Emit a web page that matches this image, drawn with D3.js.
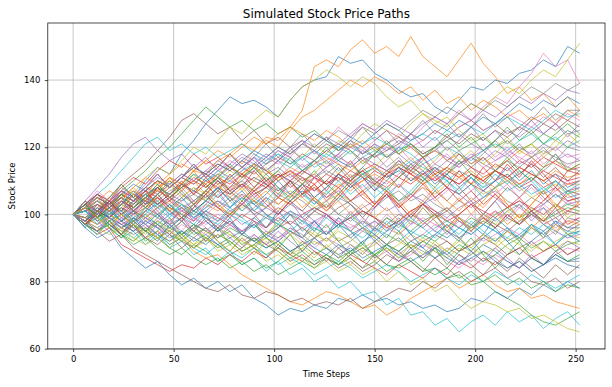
<!DOCTYPE html>
<html>
<head>
<meta charset="utf-8">
<script src="https://cdn.jsdelivr.net/npm/d3@7"></script>
<style>
  body { margin: 0; background: #fff; }
  svg { display: block; font-family: "DejaVu Sans", sans-serif; }
</style>
</head>
<body>
<svg id="chart" width="612" height="387"></svg>
<script>
/* global d3 */

// time axis (sampled every 6 steps)
const steps = [0, 6, 12, 18, 24, 30, 36, 42, 48, 54, 60, 66, 72, 78, 84, 90, 96, 102, 108, 114, 120,
    126, 132, 138, 144, 150, 156, 162, 168, 174, 180, 186, 192, 198, 204, 210, 216, 222, 228, 234, 240, 246, 252];
const xTicks = [0, 50, 100, 150, 200, 250];
const yTicks = [60, 80, 100, 120, 140];
const colors = ["#1f77b4", "#ff7f0e", "#2ca02c", "#d62728", "#9467bd",
    "#8c564b", "#e377c2", "#7f7f7f", "#bcbd22", "#17becf"];

// price paths
const path00 = [100,102,99,104,107,105,110,114,112,118,122,127,131,135,133,134,132,129,134,138,140,141,147,145,146,142,140,137,135,136,132,130,134,138,137,140,139,142,143,146,144,150,148];
const path01 = [100,98,101,99,103,106,104,108,111,109,113,116,114,118,121,119,123,122,126,131,144,146,144,149,152,148,150,147,153,147,144,141,146,151,145,141,136,138,134,136,132,135,131];
const path02 = [100,103,101,99,102,98,100,97,95,98,94,96,93,95,91,93,90,92,89,91,88,90,87,89,86,88,85,84,86,83,84,81,82,79,80,77,75,73,70,68,67,69,71];
const path03 = [100,97,94,96,91,89,87,85,83,85,84,87,85,88,86,89,87,90,88,86,89,87,85,88,86,84,82,85,83,81,84,82,86,84,87,85,88,90,87,89,91,88,90];
const path04 = [100,104,108,112,117,121,123,119,116,118,114,117,113,115,118,116,112,114,111,113,116,114,117,115,119,117,120,118,115,117,113,116,114,117,119,116,118,115,117,114,116,118,116];
const path05 = [100,102,106,104,109,112,115,119,123,128,130,127,124,126,122,125,121,123,120,122,118,121,119,122,120,117,119,121,124,122,125,123,126,128,125,127,124,126,129,127,130,128,131];
const path06 = [100,98,101,103,100,104,102,106,109,107,111,109,113,116,114,118,115,119,117,121,124,122,126,123,127,125,121,124,122,126,129,127,131,128,132,135,133,138,142,148,144,146,139];
const path07 = [100,101,98,100,103,101,99,102,104,101,103,100,98,101,99,102,105,103,106,104,101,103,100,98,101,99,96,98,101,103,100,102,99,97,100,98,101,103,100,102,99,101,100];
const path08 = [100,99,102,100,97,99,102,104,101,105,108,106,110,113,111,114,112,116,119,117,121,118,122,120,124,127,125,123,127,130,128,126,130,133,131,135,138,136,140,143,141,146,151];
const path09 = [100,97,100,96,93,95,91,94,90,92,88,90,86,89,85,87,83,86,82,84,80,82,78,80,76,77,73,75,70,71,67,69,65,68,70,67,71,68,70,66,69,71,67];
const path10 = [100,96,93,95,90,87,84,86,82,79,81,78,80,77,79,75,73,70,72,71,73,72,75,74,76,74,75,73,74,72,73,71,72,75,74,77,75,78,76,79,77,80,78];
const path11 = [100,98,101,97,95,97,93,95,91,93,89,87,88,85,82,80,78,76,74,73,75,77,76,74,72,73,70,72,75,77,79,81,78,80,82,79,77,78,75,76,74,73,72];
const path12 = [100,102,105,103,107,110,113,117,120,124,128,132,129,126,128,125,127,124,126,123,125,122,119,121,118,120,117,119,121,118,120,122,119,121,123,120,122,119,121,124,122,125,123];
const path13 = [100,98,101,103,106,104,107,105,108,111,109,112,110,107,109,106,108,111,113,110,112,109,111,108,110,113,111,114,112,109,111,108,106,109,107,110,112,109,111,108,110,107,108];
const path14 = [100,103,101,104,107,105,108,111,109,112,110,113,116,114,111,113,116,119,117,114,116,119,117,120,118,121,119,122,120,117,119,122,124,121,119,122,125,123,126,124,127,124,125];
const path15 = [100,97,95,92,94,90,88,86,84,82,80,78,77,79,76,75,77,76,74,75,73,74,73,75,72,74,76,78,77,80,78,81,83,80,82,84,81,83,80,79,81,78,80];
const path16 = [100,99,102,100,97,99,96,98,101,99,96,94,97,95,92,94,91,93,95,92,90,93,91,88,90,87,89,86,88,91,89,86,84,87,85,88,86,84,87,85,88,90,89];
const path17 = [100,102,100,103,101,104,106,103,105,102,104,107,105,108,110,107,109,106,104,107,105,108,111,109,112,114,111,113,110,112,115,113,116,114,111,113,110,112,115,113,116,114,113];
const path18 = [100,102,99,97,100,96,93,95,92,94,90,93,89,91,88,90,86,88,85,87,84,86,83,85,82,84,80,83,79,81,77,79,75,72,74,73,71,72,69,70,68,66,65];
const path19 = [100,103,106,109,113,117,121,123,119,121,118,120,117,119,121,118,116,118,115,117,114,116,113,115,112,114,111,113,116,114,112,110,113,111,108,110,107,109,106,108,105,107,104];
const path20 = [100,97,99,101,98,96,99,97,100,102,99,101,104,102,105,103,100,98,101,99,102,100,97,99,96,98,95,97,100,98,95,93,96,94,97,95,92,94,97,95,98,96,96];
const path21 = [100,101,104,102,106,104,108,107,111,109,113,112,116,118,115,119,122,120,125,129,131,134,137,140,138,141,139,136,138,134,137,133,135,131,134,132,129,131,128,130,127,131,129];
const path22 = [100,98,95,97,94,92,95,93,90,88,91,89,86,88,85,87,84,86,89,87,85,88,86,89,91,88,90,87,89,92,90,88,91,89,86,88,91,93,90,92,89,91,92];
const path23 = [100,103,106,104,108,111,109,113,116,114,118,115,117,114,112,115,113,110,112,109,107,110,108,111,113,110,108,111,109,112,114,111,109,112,110,113,111,108,110,113,111,109,110];
const path24 = [100,101,99,96,98,95,97,94,96,99,97,95,98,100,97,99,102,100,103,101,98,100,97,99,102,104,101,103,106,104,101,99,102,104,107,105,102,104,101,103,106,103,104];
const path25 = [100,98,101,99,96,94,96,93,95,92,90,93,91,88,90,93,91,89,86,88,85,87,84,86,83,85,88,86,89,87,90,92,89,91,94,92,95,93,96,94,97,95,97];
const path26 = [100,102,105,103,101,104,107,105,103,106,104,107,110,108,105,107,110,108,106,109,111,109,112,110,108,111,109,112,115,113,110,112,115,117,114,116,119,117,115,118,120,117,118];
const path27 = [100,99,97,99,96,98,101,99,97,94,96,98,95,97,94,92,95,93,96,94,91,93,90,92,95,93,90,88,91,89,87,90,88,86,89,87,84,86,83,85,88,86,86];
const path28 = [100,103,101,105,108,106,111,114,112,116,120,118,122,126,124,128,131,129,134,138,140,143,141,138,141,139,135,132,134,130,127,129,125,122,124,120,123,119,121,118,122,120,124];
const path29 = [100,102,99,101,104,102,105,108,106,109,112,110,113,111,114,117,115,118,116,113,115,118,116,114,117,119,117,120,118,115,117,120,118,116,119,121,119,122,124,121,123,120,122];
const path30 = [100,97,95,98,96,99,97,94,92,95,93,91,94,92,89,91,94,92,95,93,90,88,91,89,92,94,91,89,92,90,87,89,86,88,91,89,86,84,87,85,88,86,87];
const path31 = [100,101,104,102,105,107,105,108,110,108,111,109,112,114,112,115,113,111,114,112,115,117,115,113,116,114,112,115,113,110,112,114,111,113,110,108,111,109,112,110,107,109,109];
const path32 = [100,99,101,98,100,97,95,98,96,94,97,95,93,96,94,92,94,97,95,93,96,94,97,95,98,96,99,97,95,98,100,98,96,99,97,100,102,99,101,98,100,102,101];
const path33 = [100,102,100,103,105,103,106,108,106,109,107,110,108,106,109,107,110,112,110,113,111,109,112,110,113,115,113,111,114,112,110,113,111,114,112,115,113,116,114,117,115,113,114];
const path34 = [100,98,100,102,99,101,99,96,98,101,99,102,104,101,103,100,102,105,103,106,108,105,107,104,106,109,107,104,106,103,105,108,106,103,105,108,110,107,109,106,108,105,106];
const path35 = [100,102,104,101,103,106,104,102,105,103,101,104,102,100,103,101,99,102,100,98,101,99,102,104,101,99,97,100,98,96,99,101,98,96,99,97,95,98,100,97,99,96,98];
const path36 = [100,103,101,104,106,104,107,110,108,111,109,112,115,113,116,114,117,115,118,121,119,116,118,121,119,122,125,123,120,122,125,123,126,128,125,127,130,128,126,129,127,130,128];
const path37 = [100,98,101,103,100,102,105,103,101,104,106,104,107,105,103,106,108,105,103,106,104,102,105,103,100,102,105,107,104,106,103,101,104,102,105,107,104,102,105,103,106,104,105];
const path38 = [100,97,99,96,94,97,95,93,96,94,91,93,96,94,92,90,93,91,94,96,94,92,95,93,90,92,89,91,94,92,89,87,90,88,91,93,90,88,91,89,92,94,93];
const path39 = [100,98,96,98,95,93,96,94,91,93,90,88,91,89,87,90,88,85,87,85,82,84,86,84,81,83,85,83,80,82,84,81,79,82,80,83,81,79,82,80,78,80,82];
const path40 = [100,102,105,103,106,109,107,110,108,111,114,112,115,113,116,119,117,120,118,121,124,122,120,123,121,124,127,125,122,124,127,125,128,126,129,127,130,133,131,134,132,135,133];
const path41 = [100,99,97,100,98,101,99,102,104,102,100,103,101,104,106,104,102,105,103,106,108,106,109,107,110,112,110,108,111,109,112,114,112,109,111,113,111,114,112,110,113,111,112];
const path42 = [100,98,101,99,96,98,95,97,94,92,95,93,90,92,89,91,88,90,87,89,86,88,85,87,84,86,83,85,87,84,82,84,81,83,80,82,79,81,78,80,77,79,78];
const path43 = [100,103,101,99,102,100,103,105,102,100,98,101,99,97,100,98,96,99,97,100,102,100,97,99,101,99,96,98,101,103,101,98,100,103,101,99,102,104,102,100,103,101,103];
const path44 = [100,101,99,102,104,102,105,103,106,104,107,105,108,110,108,111,109,112,110,113,111,114,116,114,117,115,113,116,114,117,119,117,115,118,116,119,117,120,118,121,119,122,120];
const path45 = [100,101,103,101,98,100,102,100,97,99,101,99,96,98,95,97,94,96,98,96,93,95,92,94,96,94,91,93,90,92,94,92,89,91,93,91,88,90,92,89,91,88,90];
const path46 = [100,98,96,99,97,95,98,96,94,97,95,98,100,98,95,97,99,97,94,96,98,96,99,97,95,98,96,94,97,99,97,95,98,96,99,101,99,97,100,98,96,98,99];
const path47 = [100,103,105,103,101,104,106,104,107,109,107,105,108,106,109,111,109,107,110,108,111,113,111,109,112,110,113,115,113,111,114,112,115,117,115,113,116,114,117,119,117,115,116];
const path48 = [100,102,99,101,103,101,98,100,102,100,103,105,103,100,102,104,102,105,107,105,102,104,106,104,107,109,107,104,106,108,106,109,111,109,106,108,110,108,105,107,109,106,107];
const path49 = [100,101,98,100,102,99,101,103,100,98,101,99,97,100,98,96,99,97,95,98,96,94,97,95,93,96,94,92,95,93,96,98,96,94,97,95,93,96,94,97,95,93,95];
const path50 = [100,98,101,99,97,95,98,96,93,95,92,94,91,93,95,92,90,92,89,91,93,90,88,90,87,89,91,88,86,88,90,87,85,87,89,86,84,86,83,85,87,85,84];
const path51 = [100,102,104,107,105,108,111,109,112,115,113,116,119,117,120,123,121,124,126,124,122,125,123,120,122,119,121,118,120,117,119,116,118,115,117,114,116,119,117,114,116,113,115];
const path52 = [100,97,95,97,94,91,93,90,88,90,87,85,87,84,86,83,85,82,84,86,84,87,85,88,90,88,91,89,92,94,92,95,93,96,98,96,99,97,100,98,101,103,102];
const path53 = [100,101,103,101,104,102,105,107,105,108,110,108,111,109,112,110,108,111,113,111,109,112,110,113,111,109,112,114,112,110,113,111,109,112,110,113,111,114,112,110,112,110,111];
const path54 = [100,103,101,104,107,105,108,106,109,112,110,113,111,114,117,115,118,116,119,122,120,123,121,124,127,125,128,126,124,127,129,127,130,128,131,129,132,135,133,136,134,137,136];
const path55 = [100,102,100,103,106,104,107,110,108,111,114,112,109,111,114,112,115,117,115,118,116,119,121,119,116,118,121,123,121,118,120,123,121,124,122,125,123,126,124,127,125,128,126];
const path56 = [100,102,104,102,99,101,103,100,98,101,99,97,99,97,95,98,96,99,101,99,97,100,98,96,98,95,97,95,92,94,97,95,93,95,92,94,96,94,91,93,95,93,94];
const path57 = [100,102,105,103,106,104,107,110,108,111,109,112,115,113,116,114,117,120,118,121,119,122,125,123,126,124,127,125,128,131,129,132,130,133,131,134,132,135,138,136,139,137,139];
const path58 = [100,98,96,94,96,93,91,93,95,93,90,92,94,92,89,91,93,91,88,90,92,90,93,91,89,91,94,92,90,93,91,89,92,90,88,90,93,91,89,92,90,92,91];
const path59 = [100,101,104,102,105,103,106,108,106,109,107,110,112,110,113,115,113,116,114,117,119,117,120,118,121,123,121,119,122,124,122,125,123,126,124,127,129,127,125,128,131,129,130];
const path60 = [100,96,101,97,94,99,95,92,97,93,96,100,95,98,94,99,96,101,97,93,98,94,99,95,91,96,93,98,94,97,100,95,92,97,94,99,96,92,97,93,98,94,95];
const path61 = [100,104,99,103,107,102,106,110,105,109,113,108,112,107,111,115,110,106,110,105,109,104,108,112,107,103,107,102,106,110,105,101,105,100,104,108,103,99,103,107,102,106,103];
const path62 = [100,97,101,96,93,97,92,95,99,94,97,92,96,91,94,98,93,90,94,89,93,97,92,88,92,87,91,95,90,86,90,85,89,93,88,84,88,92,87,85,89,86,88];
const path63 = [100,103,99,104,101,106,103,108,104,109,106,111,107,112,108,113,109,105,110,106,111,107,112,116,111,107,112,108,113,117,112,108,113,109,114,110,115,111,116,112,108,113,112];
const path64 = [100,98,103,99,104,100,105,101,97,102,98,103,107,102,106,101,105,100,104,99,95,100,96,101,97,102,106,101,97,102,98,94,99,95,100,104,99,103,98,102,97,101,100];
const path65 = [100,97,101,98,94,98,95,99,103,99,95,99,96,100,104,100,96,100,104,101,105,102,106,103,99,103,107,103,99,103,107,104,108,104,100,104,108,105,109,105,102,107,106];
const path66 = [100,103,107,104,108,105,109,112,108,111,115,111,114,110,113,117,113,116,112,115,111,114,118,114,117,113,116,120,116,119,115,118,114,117,121,117,120,116,119,115,118,114,117];
const path67 = [100,102,98,101,105,101,104,100,103,99,102,106,102,105,101,104,100,96,100,97,101,104,100,103,99,95,99,96,100,103,99,102,98,95,99,96,100,97,101,97,94,99,98];
const path68 = [100,97,101,98,102,106,102,105,109,105,108,104,107,111,107,110,114,110,113,109,112,116,112,115,111,114,118,114,117,113,116,120,116,119,115,118,122,118,121,117,120,124,121];
const path69 = [100,101,97,101,98,102,106,102,99,103,100,104,108,104,101,105,102,106,110,106,103,107,104,108,112,108,105,109,106,110,114,110,107,111,108,112,109,113,110,106,110,107,109];
const path70 = [100,103,99,102,98,101,97,100,96,99,103,98,95,99,94,97,93,96,100,95,98,94,97,93,96,92,95,99,94,90,94,97,93,89,93,96,92,88,92,95,91,94,92];
const path71 = [100,98,102,105,101,98,102,106,102,99,103,107,103,100,104,108,104,101,105,109,105,102,106,110,106,103,107,104,100,104,108,104,101,105,102,106,103,99,103,107,103,100,104];
const path72 = [100,104,101,105,109,105,102,106,110,106,103,107,111,107,104,108,112,108,105,109,113,109,106,110,114,110,107,111,115,111,108,112,116,112,109,113,117,113,110,114,118,113,115];
const path73 = [100,97,100,104,100,97,101,105,101,98,102,106,102,99,103,107,103,100,104,108,104,101,105,109,105,102,106,103,99,103,100,96,100,103,99,96,100,97,101,98,102,97,99];
const path74 = [100,102,106,103,107,104,108,112,108,111,115,111,114,118,114,117,113,116,120,116,119,115,118,122,118,121,117,120,124,120,123,119,122,126,122,125,121,124,128,124,127,123,127];
const path75 = [100,98,95,98,94,97,93,91,94,90,93,96,92,89,93,90,87,91,88,92,89,86,90,87,84,88,85,89,86,83,87,84,88,85,82,86,83,87,84,81,85,82,85];
const path76 = [100,104,100,103,99,102,98,101,105,101,104,100,103,107,103,106,102,105,109,105,108,104,107,111,107,110,106,109,105,108,104,107,111,107,110,106,109,105,108,104,107,110,107];
const path77 = [100,99,103,100,104,101,105,109,105,108,104,107,111,107,110,114,110,113,109,112,116,112,115,111,114,118,114,117,113,116,120,116,119,115,118,122,118,121,117,120,116,120,119];
const path78 = [100,97,94,98,95,92,96,93,90,94,91,95,92,89,93,90,94,98,94,91,95,92,96,100,96,93,97,94,98,102,98,95,99,96,100,97,101,98,102,99,103,99,101];
const path79 = [100,103,100,104,101,98,102,99,103,100,97,101,98,102,99,96,100,97,101,98,95,99,96,100,97,94,98,95,99,96,93,97,94,98,95,92,96,93,97,94,91,95,94];
const path80 = [100,98,102,99,103,107,103,106,102,105,101,104,108,104,107,103,106,110,106,109,105,108,112,108,111,107,110,114,110,113,109,112,108,111,107,110,114,110,113,109,112,108,110];
const path81 = [100,102,105,101,104,108,104,107,111,107,110,106,109,105,108,104,107,103,106,102,105,101,104,100,103,99,102,98,101,97,100,96,99,95,98,101,97,100,96,99,95,98,97];
const path82 = [100,103,99,102,106,102,105,109,105,108,112,108,111,115,111,114,110,113,117,113,116,120,116,119,115,118,122,118,121,117,120,124,120,123,119,122,126,122,125,121,124,127,124];
const path83 = [100,97,101,104,100,103,107,103,106,110,106,109,105,108,112,108,111,107,110,106,109,105,108,104,107,103,106,102,105,109,105,108,104,107,103,106,102,105,101,104,108,104,105];
const path84 = [100,102,98,95,99,96,93,97,94,98,95,92,96,93,90,94,91,95,92,89,93,90,87,91,88,92,89,86,90,87,91,88,85,89,86,90,87,84,88,85,89,92,90];
const path85 = [100,103,106,102,105,101,104,108,104,107,103,106,110,106,109,105,108,112,108,111,107,110,114,110,113,109,112,116,112,115,111,114,118,114,117,113,116,112,115,111,114,110,113];
const path86 = [100,98,95,99,96,100,97,94,98,95,99,96,93,97,94,98,95,92,96,93,97,94,98,95,99,96,100,97,101,98,95,99,96,100,97,101,98,102,99,103,100,104,102];
const path87 = [100,104,101,105,109,105,108,112,108,111,115,111,114,118,114,117,121,117,120,124,120,123,119,122,126,122,125,121,124,128,124,127,123,126,130,126,129,125,128,132,128,131,131];
const path88 = [100,102,99,96,100,97,94,98,95,92,96,93,90,94,91,88,92,89,86,90,87,91,88,85,89,86,90,87,91,88,92,89,93,90,94,91,95,92,96,93,97,94,96];
const path89 = [100,97,94,98,101,97,100,104,100,103,99,102,106,102,105,101,104,108,104,107,103,106,110,106,109,105,108,104,107,111,107,110,106,109,105,108,112,108,111,107,110,106,108];

const paths = [path00, path01, path02, path03, path04, path05, path06, path07, path08, path09,
    path10, path11, path12, path13, path14, path15, path16, path17, path18, path19,
    path20, path21, path22, path23, path24, path25, path26, path27, path28, path29,
    path30, path31, path32, path33, path34, path35, path36, path37, path38, path39,
    path40, path41, path42, path43, path44, path45, path46, path47, path48, path49,
    path50, path51, path52, path53, path54, path55, path56, path57, path58, path59,
    path60, path61, path62, path63, path64, path65, path66, path67, path68, path69,
    path70, path71, path72, path73, path74, path75, path76, path77, path78, path79,
    path80, path81, path82, path83, path84, path85, path86, path87, path88, path89];

paths.forEach((p, i) => {
    if (p.length !== steps.length) console.error("path" + i + " has " + p.length + " points");
});

// SVG setting
const svg = d3.select("#chart");
const box = { left: 47.8, right: 605, top: 23, bottom: 349 };

const x = d3.scaleLinear().domain([-12.6, 264.6]).range([box.left, box.right]);
const y = d3.scaleLinear().domain([59.9, 157]).range([box.bottom, box.top]);

// grid
svg.append("g")
    .selectAll("line")
    .data(xTicks)
    .enter()
    .append("line")
    .attr("x1", d => x(d)).attr("x2", d => x(d))
    .attr("y1", box.top).attr("y2", box.bottom)
    .attr("stroke", "#b0b0b0")
    .attr("stroke-width", 0.7);

svg.append("g")
    .selectAll("line")
    .data(yTicks)
    .enter()
    .append("line")
    .attr("x1", box.left).attr("x2", box.right)
    .attr("y1", d => y(d)).attr("y2", d => y(d))
    .attr("stroke", "#b0b0b0")
    .attr("stroke-width", 0.7);

// paths
const line = d3.line()
    .x((d, i) => x(steps[i]))
    .y(d => y(d));

svg.append("g")
    .selectAll("path")
    .data(paths)
    .enter()
    .append("path")
    .attr("d", line)
    .attr("fill", "none")
    .attr("stroke", (d, i) => colors[i % colors.length])
    .attr("stroke-width", 0.8)
    .attr("stroke-linejoin", "round")
    .style("opacity", 0.85);

// axes
const xAxis = svg.append("g")
    .attr("transform", `translate(0,${box.bottom})`)
    .call(d3.axisBottom(x).tickValues(xTicks).tickSize(3).tickPadding(4));

const yAxis = svg.append("g")
    .attr("transform", `translate(${box.left},0)`)
    .call(d3.axisLeft(y).tickValues(yTicks).tickSize(3).tickPadding(4.5));

[xAxis, yAxis].forEach(g => {
    g.select(".domain").remove();
    g.selectAll("line").attr("stroke", "#000").attr("stroke-width", 0.7);
    g.selectAll("text")
        .attr("fill", "#000")
        .style("font-size", "8.5px")
        .style("font-family", "DejaVu Sans, sans-serif");
});

svg.append("rect")
    .attr("x", box.left).attr("y", box.top)
    .attr("width", box.right - box.left)
    .attr("height", box.bottom - box.top)
    .attr("fill", "none")
    .attr("stroke", "#000")
    .attr("stroke-width", 0.7);

// labels
svg.append("text")
    .attr("x", (box.left + box.right) / 2)
    .attr("y", 18)
    .attr("text-anchor", "middle")
    .style("font-size", "12px")
    .text("Simulated Stock Price Paths");

svg.append("text")
    .attr("x", (box.left + box.right) / 2)
    .attr("y", 377)
    .attr("text-anchor", "middle")
    .style("font-size", "8.5px")
    .text("Time Steps");

svg.append("text")
    .attr("transform", `translate(15,${(box.top + box.bottom) / 2}) rotate(-90)`)
    .attr("text-anchor", "middle")
    .style("font-size", "8.5px")
    .text("Stock Price");
</script>
</body>
</html>
